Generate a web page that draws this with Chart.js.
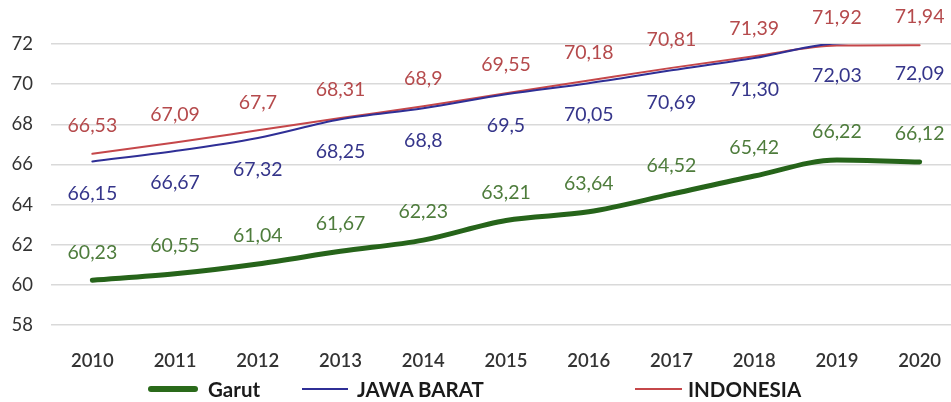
<!DOCTYPE html>
<html>
<head>
<meta charset="utf-8">
<script src="https://cdn.jsdelivr.net/npm/chart.js@4"></script>
<style>
  html, body { margin: 0; padding: 0; background: #fff; overflow: hidden; }
  #wrap { position: relative; width: 961px; height: 402px; }
  .leg { position: absolute; top: 377px; font: bold 20.5px Lato, "Open Sans", sans-serif; color: #1a1a1a; line-height: 24px; }
  .leg i { position: absolute; top: 11px; display: block; }
</style>
</head>
<body>
<div id="wrap">
  <canvas id="mainChart" width="961" height="402"></canvas>
  <div class="leg" style="left:208px"><i style="width:50px;height:6px;top:9px;left:-60px;background:#2a6a1a;border-radius:3px"></i>Garut</div>
  <div class="leg" style="left:357px"><i style="width:46px;height:2px;left:-55px;background:#2f2f96"></i>JAWA BARAT</div>
  <div class="leg" style="left:688px"><i style="width:47px;height:2px;left:-53px;background:#c5474a"></i>INDONESIA</div>
</div>
<script>
// dados
const tahun = ['2010','2011','2012','2013','2014','2015','2016','2017','2018','2019','2020'];
const garut = [60.23, 60.55, 61.04, 61.67, 62.23, 63.21, 63.64, 64.52, 65.42, 66.22, 66.12];
const jawaBarat = [66.15, 66.67, 67.32, 68.25, 68.8, 69.5, 70.05, 70.69, 71.30, 72.03, 72.09];
const indonesia = [66.53, 67.09, 67.7, 68.31, 68.9, 69.55, 70.18, 70.81, 71.39, 71.92, 71.94];
// rótulos como aparecem no gráfico
const rotuloGarut = ['60,23','60,55','61,04','61,67','62,23','63,21','63,64','64,52','65,42','66,22','66,12'];
const rotuloJabar = ['66,15','66,67','67,32','68,25','68,8','69,5','70,05','70,69','71,30','72,03','72,09'];
const rotuloIndo = ['66,53','67,09','67,7','68,31','68,9','69,55','70,18','70,81','71,39','71,92','71,94'];

const FONTE = 'Lato, "Open Sans", sans-serif';

// desenha os valores em cima/embaixo de cada ponto
const rotulos = {
  id: 'rotulos',
  afterDatasetsDraw(chart) {
    const c = chart.ctx;
    c.save();
    c.font = '19.5px ' + FONTE;
    c.textAlign = 'center';
    c.textBaseline = 'middle';
    chart.data.datasets.forEach((ds, i) => {
      const meta = chart.getDatasetMeta(i);
      meta.data.forEach((pt, j) => {
        c.fillStyle = ds.corRotulo;
        c.fillText(ds.rotulos[j], pt.x, pt.y + ds.desloc);
      });
    });
    c.restore();
  }
};

new Chart(document.getElementById('mainChart'), {
  type: 'line',
  data: {
    labels: tahun,
    datasets: [
      { label: 'Garut', data: garut, borderColor: '#26641a', borderWidth: 5, tension: 0.25,
        rotulos: rotuloGarut, corRotulo: '#4e7c3c', desloc: -28 },
      { label: 'JAWA BARAT', data: jawaBarat, borderColor: '#2f2f96', borderWidth: 2,
        rotulos: rotuloJabar, corRotulo: '#35358a', desloc: 32 },
      { label: 'INDONESIA', data: indonesia, borderColor: '#c5474a', borderWidth: 2,
        rotulos: rotuloIndo, corRotulo: '#b54a4c', desloc: -28 }
    ]
  },
  options: {
    responsive: false,
    animation: false,
    layout: { padding: { top: 44, right: 0, bottom: 0, left: 0 } },
    elements: {
      point: { radius: 0 },
      line: { cubicInterpolationMode: 'monotone', borderCapStyle: 'round' }
    },
    plugins: { legend: { display: false }, tooltip: { enabled: false } },
    scales: {
      x: {
        offset: true,
        grid: { display: false },
        border: { display: false },
        ticks: { color: '#333', font: { family: FONTE, size: 18.5, weight: '600' }, padding: 17, maxRotation: 0 },
        afterFit(s) { s.height = 77; }
      },
      y: {
        min: 58, max: 72,
        grid: { color: '#d9d9d9', lineWidth: 1.5, drawTicks: false },
        border: { display: false },
        ticks: { stepSize: 2, color: '#333', font: { family: FONTE, size: 18.5 }, padding: 18 },
        afterFit(s) { s.width = 51; }
      }
    }
  },
  plugins: [rotulos]
});
</script>
</body>
</html>
